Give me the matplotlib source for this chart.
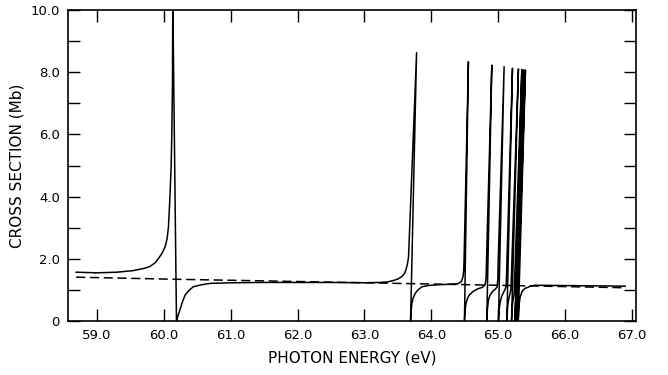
import matplotlib
matplotlib.use("Agg")
import matplotlib.pyplot as plt
from matplotlib.ticker import MultipleLocator, FormatStrFormatter

# solid curve: photon energy (eV) and cross section (Mb)
energy = [
    # first resonance
    58.69, 59.00, 59.30, 59.54, 59.70, 59.79, 59.87, 59.94, 59.98, 60.02, 60.05,
    60.07, 60.09, 60.11, 60.12, 60.13, 60.135,
    60.19, 60.21, 60.24, 60.28, 60.32, 60.38, 60.44, 60.55, 60.69, 60.85,
    61.04, 61.44, 62.00, 62.50, 63.00, 63.23,
    # second
    63.35, 63.43, 63.50, 63.56, 63.60, 63.62, 63.645, 63.66, 63.675, 63.78,
    63.69, 63.70, 63.71, 63.73, 63.76, 63.80, 63.86, 63.95, 64.06, 64.25,
    # third
    64.40, 64.45, 64.475, 64.485, 64.49, 64.555,
    64.496, 64.505, 64.52, 64.54, 64.57, 64.63, 64.70, 64.76,
    # fourth
    64.80, 64.815, 64.82, 64.825, 64.905,
    64.83, 64.84, 64.855, 64.88, 64.92, 64.96,
    # fifth
    64.985, 64.995, 65.00, 65.089,
    65.004, 65.015, 65.03, 65.05, 65.08, 65.10,
    # sixth
    65.12, 65.127, 65.214,
    65.13, 65.14, 65.155, 65.18,
    # seventh to tenth
    65.192, 65.197, 65.303,
    65.20, 65.21, 65.225, 65.24,
    65.245, 65.354,
    65.25, 65.258, 65.27,
    65.276, 65.384,
    65.28, 65.287, 65.295,
    65.298, 65.408,
    65.30, 65.31, 65.33, 65.36, 65.40, 65.44, 65.48, 65.55, 66.00, 66.50, 66.90,
]
cross_section = [
    1.57, 1.55, 1.57, 1.62, 1.69, 1.75, 1.87, 2.07, 2.20, 2.39, 2.65,
    3.03, 3.89, 4.96, 6.03, 7.60, 10.3,
    0.00, 0.15, 0.35, 0.62, 0.84, 0.99, 1.10, 1.16, 1.21, 1.22,
    1.23, 1.24, 1.24, 1.24, 1.23, 1.24,
    1.26, 1.30, 1.35, 1.43, 1.53, 1.64, 1.85, 2.07, 2.90, 8.63,
    0.00, 0.35, 0.57, 0.75, 0.89, 1.00, 1.10, 1.14, 1.16, 1.18,
    1.20, 1.27, 1.43, 1.65, 1.95, 8.34,
    0.00, 0.35, 0.57, 0.72, 0.84, 0.96, 1.04, 1.08,
    1.15, 1.28, 1.45, 1.90, 8.23,
    0.00, 0.40, 0.68, 0.84, 0.96, 1.03,
    1.10, 1.35, 1.90, 8.18,
    0.00, 0.38, 0.60, 0.78, 0.92, 1.00,
    1.12, 1.60, 8.13,
    0.00, 0.42, 0.68, 0.90,
    1.05, 1.40, 8.11,
    0.00, 0.45, 0.72, 0.90,
    1.25, 8.09,
    0.00, 0.48, 0.80,
    1.10, 8.08,
    0.00, 0.50, 0.78,
    1.00, 8.07,
    0.00, 0.50, 0.78, 0.96, 1.05, 1.08, 1.12, 1.15, 1.14, 1.13, 1.12,
]

# dashed background
energy_bg = [58.69, 60.00, 62.00, 64.00, 66.90]
cross_section_bg = [1.41, 1.35, 1.27, 1.19, 1.07]

x_ticks = [59.0, 60.0, 61.0, 62.0, 63.0, 64.0, 65.0, 66.0, 67.0]
y_ticks = [0, 2.0, 4.0, 6.0, 8.0, 10.0]
y_tick_labels = ["0", "2.0", "4.0", "6.0", "8.0", "10.0"]

fig = plt.figure(figsize=(6.68, 3.75), dpi=100)
ax = fig.add_axes([0.102, 0.144, 0.850, 0.829])

ax.plot(energy, cross_section, color="black", lw=1.1)
ax.plot(energy_bg, cross_section_bg, color="black", lw=1.1, dashes=(6, 3))

ax.set_xlim(58.57, 67.06)
ax.set_ylim(0, 10)

ax.set_xticks(x_ticks)
ax.xaxis.set_major_formatter(FormatStrFormatter("%.1f"))
ax.set_yticks(y_ticks)
ax.set_yticklabels(y_tick_labels)
ax.yaxis.set_minor_locator(MultipleLocator(1.0))

ax.tick_params(which="both", direction="in", top=True, right=True,
               length=8.5, width=1.0, labelsize=9.5, pad=6)

for s in ax.spines.values():
    s.set_linewidth(1.2)

ax.set_xlabel("PHOTON ENERGY (eV)", fontsize=11, labelpad=6)
ax.set_ylabel("CROSS SECTION (Mb)", fontsize=11, labelpad=4)

fig.savefig("out.png", dpi=100)
